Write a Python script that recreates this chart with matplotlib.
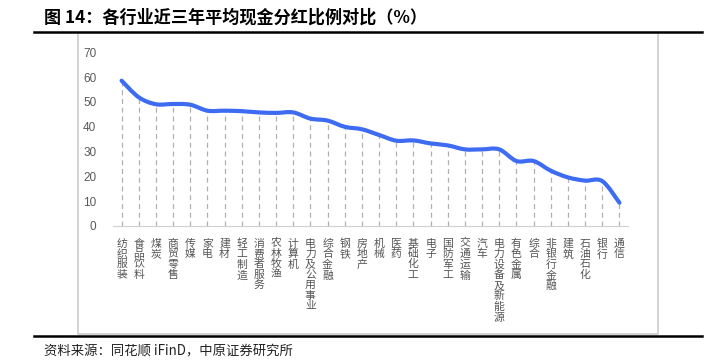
import matplotlib.pyplot as plt
import matplotlib.patches as mpatches
from matplotlib.path import Path
import numpy as np

plt.rcParams['font.family'] = ['Noto Sans CJK SC', 'DejaVu Sans']

# 行业及近三年平均现金分红比例（%）
industries = [
    "纺织服装", "食品饮料", "煤炭", "商贸零售", "传媒", "家电", "建材",
    "轻工制造", "消费者服务", "农林牧渔", "计算机", "电力及公用事业",
    "综合金融", "钢铁", "房地产", "机械", "医药", "基础化工", "电子",
    "国防军工", "交通运输", "汽车", "电力设备及新能源", "有色金属", "综合",
    "非银行金融", "建筑", "石油石化", "银行", "通信",
]
payout = [
    58.6, 51.9, 49.1, 49.2, 48.9, 46.5, 46.5, 46.3, 45.8, 45.6, 45.8,
    43.3, 42.5, 40.0, 39.0, 36.7, 34.4, 34.5, 33.3, 32.5, 30.9, 30.9,
    30.9, 26.2, 26.2, 22.3, 19.6, 18.3, 18.1, 9.4,
]
yticks = [0, 10, 20, 30, 40, 50, 60, 70]

title = "图 14：各行业近三年平均现金分红比例对比（%）"
source = "资料来源：同花顺 iFinD，中原证券研究所"

W, H = 707, 361
fig = plt.figure(figsize=(W / 100, H / 100), dpi=100)


def fx(px):
    return px / W


def fy(py):
    return 1 - py / H


def fig_line(xs, ys, **kw):
    fig.add_artist(plt.Line2D([fx(v) for v in xs], [fy(v) for v in ys],
                              transform=fig.transFigure, **kw))


# chart frame (light grey, open at top under the rule)
fig_line([78, 78, 658, 658], [33, 334, 334, 33], color="#cccccc", lw=1.2, zorder=4)
# header / footer rules
fig_line([34, 702], [32, 32], color="black", lw=1.8, zorder=5)
fig_line([34, 702], [336, 336], color="black", lw=1.8, zorder=5)

fig.text(fx(44), fy(18), title, fontsize=12.3, fontweight="bold", va="center", ha="left")
fig.text(fx(44), fy(351), source, fontsize=9.6, va="center", ha="left", color="#222222")

ax = fig.add_axes([fx(113), fy(226), fx(628) - fx(113), fy(52.4) - fy(226)])
ax.patch.set_alpha(0)

x = np.arange(len(industries))
y = np.array(payout)

# dashed drop lines
ax.vlines(x, 0, y, colors="#b0b0b0", linestyles=(0, (4, 3)), lw=0.9)

# smoothed line (Catmull-Rom through data points)
verts = [(x[0], y[0])]
codes = [Path.MOVETO]
t = 1 / 6
for i in range(len(x) - 1):
    p0 = (x[max(i - 1, 0)], y[max(i - 1, 0)])
    p1 = (x[i], y[i])
    p2 = (x[i + 1], y[i + 1])
    p3 = (x[min(i + 2, len(x) - 1)], y[min(i + 2, len(x) - 1)])
    c1 = (p1[0] + (p2[0] - p0[0]) * t, p1[1] + (p2[1] - p0[1]) * t)
    c2 = (p2[0] - (p3[0] - p1[0]) * t, p2[1] - (p3[1] - p1[1]) * t)
    verts += [c1, c2, p2]
    codes += [Path.CURVE4] * 3
ax.add_patch(mpatches.PathPatch(Path(verts, codes), fill=False, edgecolor="#3d6cf2",
                                lw=3.0, capstyle="round", joinstyle="round", zorder=3))

ax.set_xlim(-0.5, len(industries) - 0.5)
ax.set_ylim(0, 70)
ax.set_yticks(yticks)
ax.set_xticks(x)
ax.set_xticklabels(["\n".join(n) for n in industries], linespacing=1.05,
                   fontsize=7.8, color="#555555", va="top")
for s in ["top", "right", "left"]:
    ax.spines[s].set_visible(False)
ax.spines["bottom"].set_color("#d0d0d0")
ax.tick_params(axis="x", length=0, pad=9)
ax.tick_params(axis="y", length=0, pad=12, labelsize=8.5, labelcolor="#595959")
for lab in ax.get_yticklabels():
    lab.set_fontfamily(["Liberation Sans", "DejaVu Sans"])

fig.savefig("out.png", dpi=100)
